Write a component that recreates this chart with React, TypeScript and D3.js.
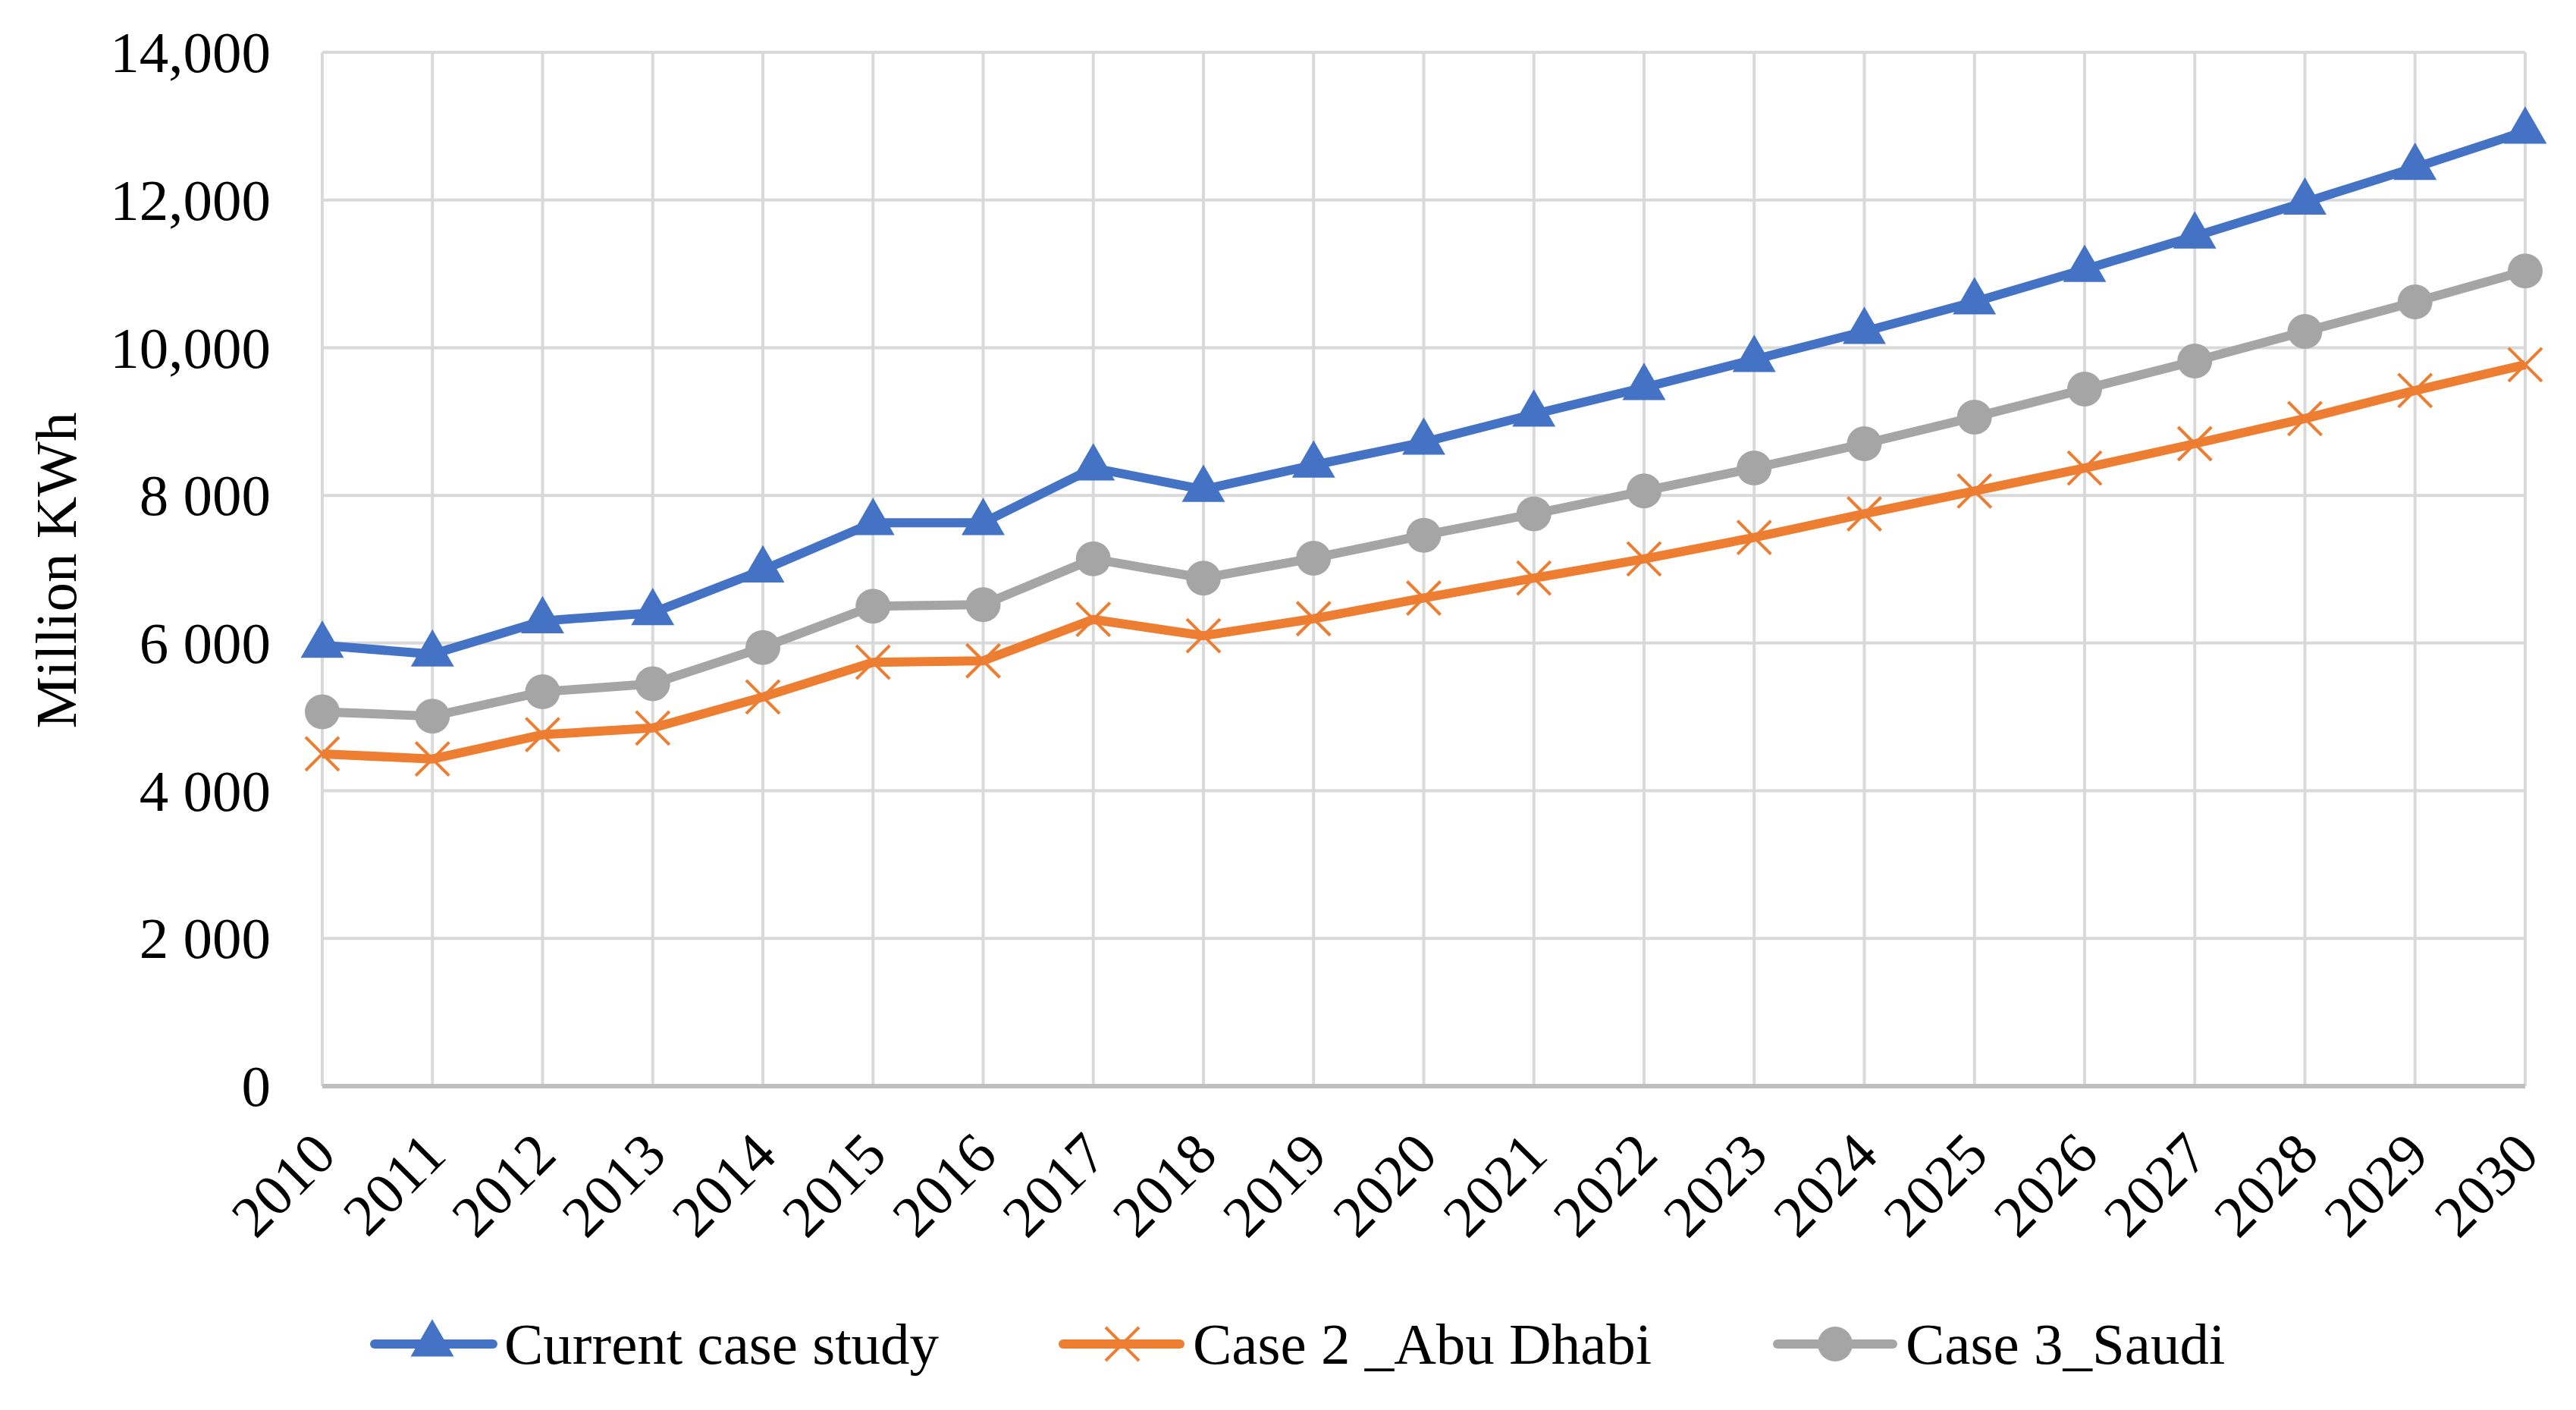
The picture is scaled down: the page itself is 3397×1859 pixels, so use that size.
import React from 'react';
import * as d3 from 'd3';

// values (Million KWh)
const years = ['2010','2011','2012','2013','2014','2015','2016','2017','2018','2019','2020','2021','2022','2023','2024','2025','2026','2027','2028','2029','2030'];
const currentCase = [5970,5850,6300,6410,6990,7630,7630,8370,8080,8410,8720,9100,9460,9840,10220,10620,11060,11510,11970,12440,12930];
const abuDhabi = [4500,4430,4760,4850,5270,5740,5760,6320,6100,6330,6610,6880,7140,7430,7750,8060,8370,8700,9040,9420,9770];
const saudi = [5070,5010,5340,5450,5940,6500,6520,7140,6880,7150,7460,7750,8060,8370,8700,9060,9440,9820,10220,10620,11040];
const yTickValues = [0,2000,4000,6000,8000,10000,12000,14000];
const yTickLabels = ['0','2 000','4 000','6 000','8 000','10,000','12,000','14,000'];

const W = 3397;
const H = 1859;
const left = 425, right = 3330, top = 69, bottom = 1432;
const font = '"Liberation Serif", "Times New Roman", serif';
const fs = 77;

const series = [
  { name: 'Current case study', values: currentCase, color: '#4472C4', marker: 'triangle', lx: 494, mx: 570, tx: 665, lw: 156 },
  { name: 'Case 2 _Abu Dhabi', values: abuDhabi, color: '#ED7D31', marker: 'x', lx: 1402, mx: 1480, tx: 1573, lw: 154 },
  { name: 'Case 3_Saudi', values: saudi, color: '#A5A5A5', marker: 'circle', lx: 2344, mx: 2420, tx: 2513, lw: 152 },
];

const triPath = d3.symbol(d3.symbolTriangle, 1400)() as string;

function Marker({ type, x, y, color }: { type: string; x: number; y: number; color: string }) {
  if (type === 'triangle') return <path d={triPath} transform={`translate(${x},${y})`} fill={color} />;
  if (type === 'circle') return <circle cx={x} cy={y} r={23} fill={color} />;
  const s = 22;
  return (
    <g stroke={color} strokeWidth={4}>
      <line x1={x - s} y1={y - s} x2={x + s} y2={y + s} />
      <line x1={x - s} y1={y + s} x2={x + s} y2={y - s} />
    </g>
  );
}

export default function App() {
  const x = d3.scalePoint<string>().domain(years).range([left, right]);
  const y = d3.scaleLinear().domain([0, 14000]).range([bottom, top]);
  const line = d3.line<number>().x((_, i) => x(years[i]) as number).y(d => y(d));

  return (
    <svg width={W} height={H} style={{ position: 'absolute', left: 0, top: 0, background: 'white' }}>
      {/* grid */}
      <g stroke="#D9D9D9" strokeWidth={4}>
        {yTickValues.slice(1).map(v => (
          <line key={v} x1={left} x2={right} y1={y(v)} y2={y(v)} />
        ))}
        {years.map(yr => (
          <line key={yr} x1={x(yr)} x2={x(yr)} y1={top} y2={bottom} />
        ))}
      </g>
      <line x1={left} x2={right} y1={bottom} y2={bottom} stroke="#BFBFBF" strokeWidth={6} />

      {/* y labels */}
      <g fontFamily={font} fontSize={fs} fill="#000" textAnchor="end">
        {yTickValues.map((v, i) => (
          <text key={v} x={357} y={y(v)} dy="0.34em">{yTickLabels[i]}</text>
        ))}
      </g>
      <text
        transform={`translate(100,752) rotate(-90)`}
        textAnchor="middle"
        fontFamily={font}
        fontSize={fs}
      >Million KWh</text>

      {/* x labels */}
      <g fontFamily={font} fontSize={fs} textAnchor="end">
        {years.map(yr => (
          <text key={yr} transform={`translate(${(x(yr) as number) - 17},${bottom + 56}) rotate(-45)`} dy="0.7em">{yr}</text>
        ))}
      </g>

      {/* lines */}
      {series.map(s => (
        <g key={s.name}>
          <path d={line(s.values) as string} fill="none" stroke={s.color} strokeWidth={12} strokeLinejoin="round" />
          {s.values.map((v, i) => (
            <Marker key={i} type={s.marker} x={x(years[i]) as number} y={y(v)} color={s.color} />
          ))}
        </g>
      ))}

      {/* legend */}
      {series.map(s => (
        <g key={s.name + 'leg'}>
          <line x1={s.lx} x2={s.lx + s.lw} y1={1772} y2={1772} stroke={s.color} strokeWidth={12} strokeLinecap="round" />
          <Marker type={s.marker} x={s.mx} y={1772} color={s.color} />
          <text x={s.tx} y={1772} dy="0.34em" fontFamily={font} fontSize={fs}>{s.name}</text>
        </g>
      ))}
    </svg>
  );
}
